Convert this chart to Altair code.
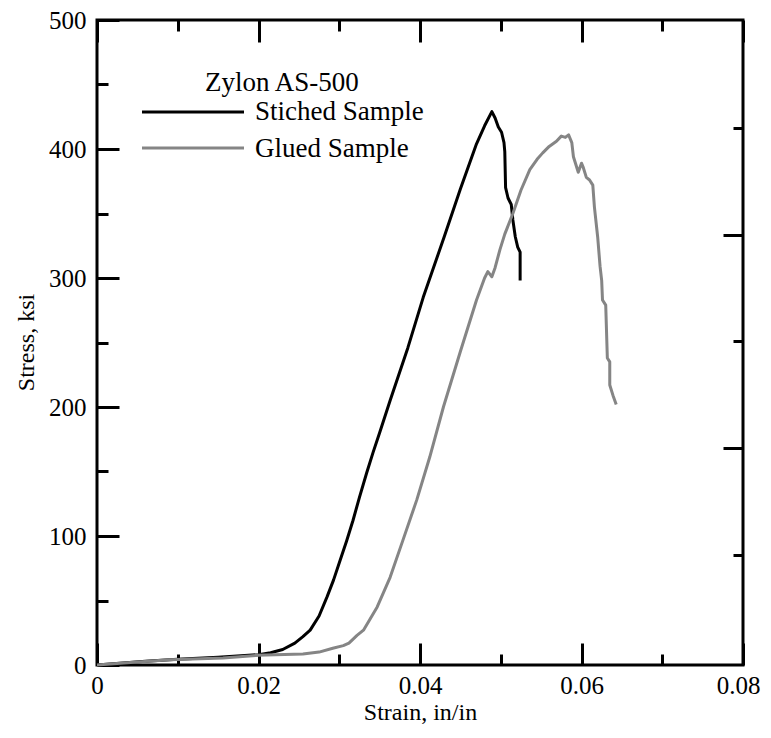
import altair as alt
import pandas as pd

# ---- data ----
stitched_strain = [0.0, 0.002, 0.006, 0.010, 0.015, 0.020, 0.0215, 0.023, 0.0245, 0.0255,
                   0.0264, 0.0275, 0.0285, 0.0293, 0.0301, 0.0309, 0.0317, 0.0325, 0.0334,
                   0.0342, 0.0350, 0.0363, 0.0385, 0.0404, 0.0430, 0.0450, 0.0470, 0.0480,
                   0.0489, 0.0493, 0.0497, 0.0501, 0.0504, 0.0505, 0.0506, 0.0509, 0.0513,
                   0.0515, 0.0518, 0.0521, 0.0524, 0.0524]
stitched_stress = [0, 1, 3, 4.5, 6, 8, 9.5, 12, 17, 22,
                   27, 38, 53, 66, 81, 96, 112, 130, 149,
                   165, 180, 205, 246, 285, 332, 369, 404, 418,
                   429, 424, 417, 413, 405, 398, 370, 362, 357,
                   345, 332, 324, 320, 298]

glued_strain = [0.0, 0.0033, 0.009, 0.0156, 0.0198, 0.0255, 0.0275, 0.0292, 0.0305, 0.0312,
                0.0322, 0.0330, 0.0347, 0.0363, 0.0379, 0.0396, 0.0412, 0.0429, 0.0450, 0.0470,
                0.0480, 0.0484, 0.0489, 0.0493, 0.0499, 0.0505, 0.0515, 0.0525, 0.0536, 0.0545,
                0.0552, 0.0560, 0.0569, 0.0575, 0.0580, 0.0584, 0.0588, 0.0590, 0.0596, 0.0600,
                0.0602, 0.0606, 0.0610, 0.0614, 0.0616, 0.0620, 0.0623, 0.0625, 0.0626, 0.0630,
                0.0632, 0.0635, 0.0635, 0.0639, 0.0643]
glued_stress = [0, 1.5, 4, 5.5, 7.5, 8.5, 10, 13, 15, 17,
                23, 27, 45, 68, 97, 128, 161, 200, 243, 283,
                300, 305, 301, 308, 322, 334, 350, 368, 384, 392,
                397, 402, 406, 410, 409, 411, 405, 394, 382, 389,
                386, 378, 376, 372, 355, 332, 309, 298, 283, 279,
                238, 235, 217, 209, 202]

series_names = ["Stiched Sample", "Glued Sample"]
series_colors = ["#000000", "#858585"]
legend_title = "Zylon AS-500"

x_ticks = [0, 0.01, 0.02, 0.03, 0.04, 0.05, 0.06, 0.07, 0.08]
y_ticks = [0, 50, 100, 150, 200, 250, 300, 350, 400, 450, 500]
right_ticks = [85.5, 168, 251, 333, 416]
right_long = [168, 333]

FONT = "'Liberation Serif', 'Times New Roman', Times, serif"
FS = 25
TFS = 24
LFS = 27

df_st = pd.DataFrame({"strain": stitched_strain, "stress": stitched_stress,
                      "idx": list(range(len(stitched_strain)))})
df_gl = pd.DataFrame({"strain": glued_strain, "stress": glued_stress,
                      "idx": list(range(len(glued_strain)))})

xs = alt.Scale(domain=[0, 0.08], nice=False, zero=False)
ys = alt.Scale(domain=[0, 500], nice=False, zero=False)

x_tick_expr = {"expr": "round(datum.value*100) % 2 === 0 ? -22 : -11"}
y_tick_expr = {"expr": "datum.value % 100 === 0 ? -22 : -11"}
r_tick_expr = {"expr": "indexof(" + str(right_long) + ", datum.value) >= 0 ? -20 : -10"}

common_axis = dict(domain=False, grid=False, tickColor="black", tickWidth=3,
                   labelFont=FONT, labelFontSize=FS, labelColor="black",
                   titleFont=FONT, titleFontSize=TFS, titleColor="black",
                   titleFontWeight="normal", labelOverlap=False, labelFlush=False)

x_bottom = alt.Axis(orient="bottom", values=x_ticks, title="Strain, in/in",
                    tickSize=x_tick_expr, labelPadding=30,
                    labelOffset={"expr": "datum.value > 0.075 ? -5 : 0"},
                    titleX=323, titleY=54, titleBaseline="alphabetic", titleAlign="center",
                    labelExpr="round(datum.value*100) % 2 === 0 ? (datum.value === 0 ? '0' : format(datum.value, '.2f')) : ''",
                    **common_axis)
y_left = alt.Axis(orient="left", values=y_ticks, title="Stress, ksi",
                  tickSize=y_tick_expr, labelPadding=33,
                  titleX=-64, titleY=322, titleBaseline="alphabetic", titleAlign="center",
                  titleAngle=270,
                  labelExpr="datum.value % 100 === 0 ? format(datum.value, 'd') : ''",
                  **common_axis)
x_top = alt.Axis(orient="top", values=x_ticks, title=None, labels=False,
                 tickSize=x_tick_expr, domain=False, grid=False,
                 tickColor="black", tickWidth=3)
y_right = alt.Axis(orient="right", values=right_ticks, title=None, labels=False,
                   tickSize=r_tick_expr, domain=False, grid=False,
                   tickColor="black", tickWidth=3)

black = alt.Chart(df_st).mark_line(color=series_colors[0], strokeWidth=3,
                                   strokeJoin="round").encode(
    x=alt.X("strain:Q", scale=xs, axis=x_bottom),
    y=alt.Y("stress:Q", scale=ys, axis=y_left),
    order="idx:Q",
)
gray = alt.Chart(df_gl).mark_line(color=series_colors[1], strokeWidth=3,
                                  strokeJoin="round").encode(
    x=alt.X("strain:Q", scale=xs, axis=x_top),
    y=alt.Y("stress:Q", scale=ys, axis=y_right),
    order="idx:Q",
)

one = pd.DataFrame({"k": [0]})
leg_title = alt.Chart(one).mark_text(text=legend_title, align="left", baseline="alphabetic",
                                     font=FONT, fontSize=LFS, color="black").encode(
    x=alt.value(108), y=alt.value(71))
leg_rule1 = alt.Chart(one).mark_rule(color=series_colors[0], strokeWidth=3).encode(
    x=alt.value(45), x2=alt.value(147), y=alt.value(92))
leg_rule2 = alt.Chart(one).mark_rule(color=series_colors[1], strokeWidth=3).encode(
    x=alt.value(45), x2=alt.value(147), y=alt.value(128))
leg_text1 = alt.Chart(one).mark_text(text=series_names[0], align="left", baseline="alphabetic",
                                     font=FONT, fontSize=LFS, color="black").encode(
    x=alt.value(158), y=alt.value(100))
leg_text2 = alt.Chart(one).mark_text(text=series_names[1], align="left", baseline="alphabetic",
                                     font=FONT, fontSize=LFS, color="black").encode(
    x=alt.value(158), y=alt.value(137))

chart = alt.layer(black, gray, leg_title, leg_rule1, leg_rule2, leg_text1, leg_text2).resolve_axis(
    x="independent", y="independent"
).properties(
    width=646, height=645,
    autosize=alt.AutoSizeParams(type="none"),
    padding={"left": 89, "top": 12, "right": 20, "bottom": 65},
    background="white",
).configure_view(stroke="black", strokeWidth=3)

chart.save("out.html", embed_options={"renderer": "svg", "actions": False})
